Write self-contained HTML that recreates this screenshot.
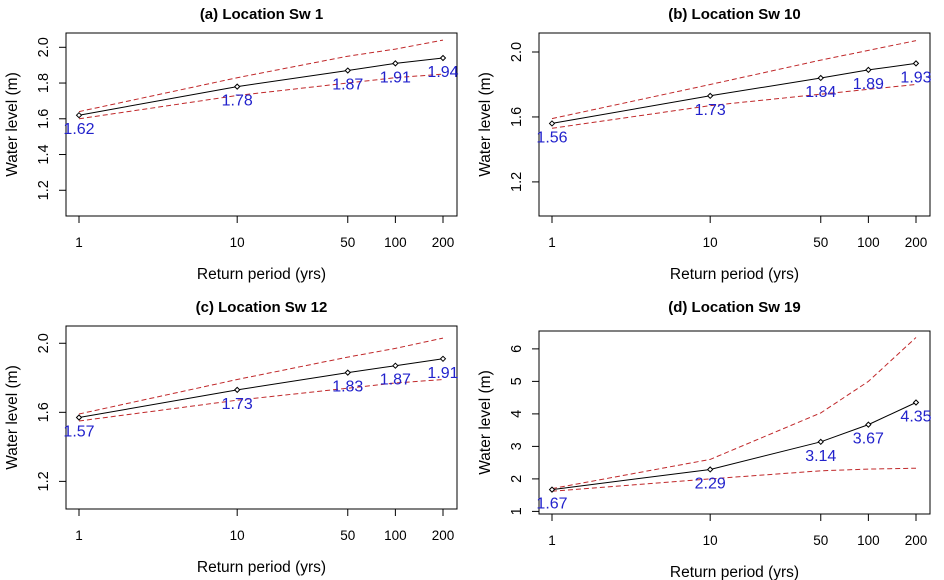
<!DOCTYPE html>
<html><head><meta charset="utf-8"><style>
body{margin:0;background:#fff}
svg{display:block;font-family:"Liberation Sans",Arial,sans-serif}
</style></head><body>
<svg id="c" width="944" height="580" viewBox="0 0 944 580"></svg>
<script>
const periods = [1, 10, 50, 100, 200];
const xTickLabels = ["1", "10", "50", "100", "200"];
const titles = ["(a) Location Sw 1", "(b) Location Sw 10", "(c) Location Sw 12", "(d) Location Sw 19"];
const estA = [1.62, 1.78, 1.87, 1.91, 1.94];
const upA = [1.64, 1.83, 1.95, 1.99, 2.04];
const loA = [1.60, 1.73, 1.80, 1.83, 1.85];
const estB = [1.56, 1.73, 1.84, 1.89, 1.93];
const upB = [1.59, 1.80, 1.95, 2.01, 2.07];
const loB = [1.53, 1.67, 1.74, 1.77, 1.80];
const estC = [1.57, 1.73, 1.83, 1.87, 1.91];
const upC = [1.59, 1.79, 1.92, 1.97, 2.03];
const loC = [1.55, 1.67, 1.74, 1.77, 1.79];
const estD = [1.67, 2.29, 3.14, 3.67, 4.35];
const upD = [1.70, 2.60, 4.03, 5.00, 6.35];
const loD = [1.62, 2.00, 2.25, 2.30, 2.33];
const ticksA = [1.2, 1.4, 1.6, 1.8, 2.0];
const ticksB = [1.2, 1.6, 2.0];
const ticksC = [1.2, 1.6, 2.0];
const ticksD = [1, 2, 3, 4, 5, 6];

const svg = document.getElementById('c');
const NS = 'http://www.w3.org/2000/svg';
function mk(tag, attrs, parent, text) {
  const e = document.createElementNS(NS, tag);
  for (const k in attrs) e.setAttribute(k, attrs[k]);
  if (text !== undefined) e.textContent = text;
  (parent || svg).appendChild(e);
  return e;
}

function panel(id, ox, oy, titleY, title, est, up, lo, ticks, yMin, yMax, tickFmt) {
  const g = mk('g', {transform: 'translate(' + ox + ',' + oy + ')'});
  
  
  const L = 66, R = 457, T = 33, B = 216;
  const x0 = 79, x1 = 443;
  const sx = v => x0 + (x1 - x0) * Math.log10(v) / Math.log10(200);
  const sy = v => B - (v - yMin) / (yMax - yMin) * (B - T);
  const t = mk('text', {x: (L + R) / 2, y: titleY, 'text-anchor': 'middle', 'font-weight': 'bold', 'font-size': 15}, g, title);
  
  
  const box = mk('rect', {x: L, y: T, width: R - L, height: B - T, fill: 'none', stroke: '#000', 'stroke-width': 1}, g);
  
  
  periods.forEach((p, i) => {
    const x = sx(p);
    mk('line', {x1: x, x2: x, y1: B, y2: B + 7, stroke: '#000'}, g);
    const tl = mk('text', {x: x, y: B + 31, 'text-anchor': 'middle', 'font-size': 13.5}, g, xTickLabels[i]);
    
    
  });
  ticks.forEach(v => {
    const y = sy(v);
    mk('line', {x1: L, x2: L - 7, y1: y, y2: y, stroke: '#000'}, g);
    const tl = mk('text', {x: 0, y: 0, 'text-anchor': 'middle', 'font-size': 14.5, transform: 'translate(48,' + y + ') rotate(-90)'}, g, tickFmt(v));
    
    
  });
  const xt = mk('text', {x: (L + R) / 2, y: B + 63, 'text-anchor': 'middle', 'font-size': 15.5}, g, 'Return period (yrs)');
  
  
  const yt = mk('text', {x: 0, y: 0, 'text-anchor': 'middle', 'font-size': 15.5, transform: 'translate(17,' + (T + B) / 2 + ') rotate(-90)'}, g, 'Water level (m)');
  
  
  const pts = arr => arr.map((v, i) => sx(periods[i]).toFixed(1) + ',' + sy(v).toFixed(1)).join(' ');
  const u = mk('polyline', {points: pts(up), fill: 'none', stroke: '#c0282a', 'stroke-width': 1, 'stroke-dasharray': '5,3'}, g);
  
  
  const l = mk('polyline', {points: pts(lo), fill: 'none', stroke: '#c0282a', 'stroke-width': 1, 'stroke-dasharray': '5,3'}, g);
  
  
  const m = mk('polyline', {points: pts(est), fill: 'none', stroke: '#000', 'stroke-width': 1}, g);
  
  
  est.forEach((v, i) => {
    const x = sx(periods[i]), y = sy(v);
    const d = mk('polygon', {points: [x, y - 2.5, x + 2.5, y, x, y + 2.5, x - 2.5, y].join(' '), fill: '#fff', stroke: '#000', 'stroke-width': 1}, g);
    
    
    const lab = mk('text', {x: x, y: y + 19, 'text-anchor': 'middle', 'font-size': 16, fill: '#2222cc'}, g, v.toFixed(2));
    
    
  });
}
const f1 = v => v.toFixed(1);
const f0 = v => String(v);
panel('a', 0, 0, 19, titles[0], estA, upA, loA, ticksA, 1.056, 2.08, f1);
panel('b', 473, 0, 19, titles[1], estB, upB, loB, ticksB, 0.99, 2.117, f1);
panel('c', 0, 293, 19, titles[2], estC, upC, loC, ticksC, 1.04, 2.10, f1);
panel('d', 473, 298, 14, titles[3], estD, upD, loD, ticksD, 0.92, 6.55, f0);
</script>
</body></html>
